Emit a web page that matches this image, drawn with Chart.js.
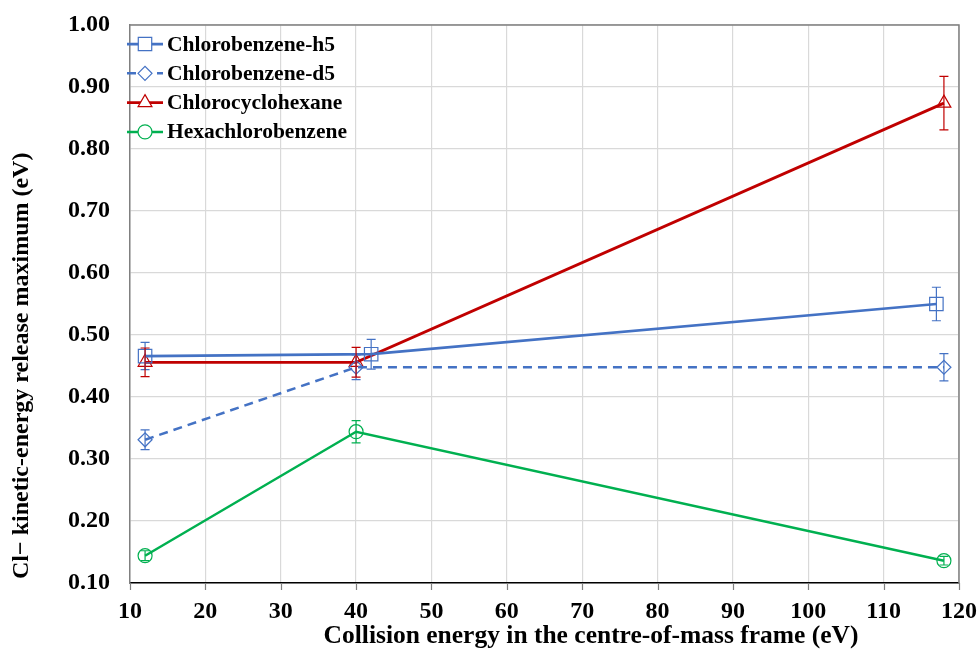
<!DOCTYPE html>
<html>
<head>
<meta charset="utf-8">
<script src="https://cdn.jsdelivr.net/npm/chart.js@4.4.1/dist/chart.umd.min.js"></script>
<style>
  html, body { margin: 0; padding: 0; background: #fff; }
</style>
</head>
<body>
<canvas id="kerChart" width="980" height="649"></canvas>
<script>
/* ------------------ DATA ------------------ */
const seriesNames = ["Chlorobenzene-h5", "Chlorobenzene-d5", "Chlorocyclohexane", "Hexachlorobenzene"];

const h5Energy = [12, 42, 117];
const h5Ker = [0.466, 0.469, 0.550];
const h5Err = [0.022, 0.024, 0.027];

const d5Energy = [12, 40, 118];
const d5Ker = [0.331, 0.448, 0.448];
const d5Err = [0.016, 0.020, 0.022];

const cyclohexEnergy = [12, 40, 118];
const cyclohexKer = [0.456, 0.456, 0.874];
const cyclohexErr = [0.023, 0.024, 0.043];

const hexaEnergy = [12, 40, 118];
const hexaKer = [0.144, 0.344, 0.136];
const hexaErr = [0.008, 0.018, 0.007];

const xTitle = "Collision energy in the centre-of-mass frame (eV)";
const yTitle = "Cl\u2212 kinetic-energy release maximum (eV)";

const BLUE = "#4472C4";
const RED = "#C00000";
const GREEN = "#00B050";
const FONT = "'Liberation Serif', 'Times New Roman', serif";

function toPoints(xs, ys) {
    return xs.map((x, i) => ({ x: x, y: ys[i] }));
}

const errors = [h5Err, d5Err, cyclohexErr, hexaErr];

/* ------------------ PLUGINS ------------------ */
// top and right edges of the plot box, plus short x tick marks
const frame = {
    id: "frame",
    beforeDatasetsDraw(chart) {
        const { ctx, chartArea: a, scales: { x } } = chart;
        ctx.save();
        ctx.strokeStyle = "#808080";
        ctx.lineWidth = 1.5;
        ctx.beginPath();
        ctx.moveTo(a.left, a.top);
        ctx.lineTo(a.right, a.top);
        ctx.lineTo(a.right, a.bottom);
        ctx.stroke();

        ctx.lineWidth = 1.2;
        ctx.beginPath();
        x.ticks.forEach(t => {
            const px = Math.round(x.getPixelForValue(t.value)) + 0.5;
            ctx.moveTo(px, a.bottom);
            ctx.lineTo(px, a.bottom + 7);
        });
        ctx.stroke();
        ctx.restore();
    }
};

// vertical error bars with caps
const errorBars = {
    id: "errorBars",
    afterDatasetsDraw(chart) {
        const { ctx, scales: { x, y } } = chart;
        ctx.save();
        chart.data.datasets.forEach((ds, i) => {
            ctx.strokeStyle = ds.borderColor;
            ctx.lineWidth = 1.2;
            ctx.setLineDash([]);
            ds.data.forEach((p, j) => {
                const e = errors[i][j];
                const px = x.getPixelForValue(p.x);
                const top = y.getPixelForValue(p.y + e);
                const bot = y.getPixelForValue(p.y - e);
                ctx.beginPath();
                ctx.moveTo(px, top);
                ctx.lineTo(px, bot);
                ctx.moveTo(px - 4.5, top);
                ctx.lineTo(px + 4.5, top);
                ctx.moveTo(px - 4.5, bot);
                ctx.lineTo(px + 4.5, bot);
                ctx.stroke();
            });
        });
        ctx.restore();
    }
};

// legend drawn inside the plot, top-left
const innerLegend = {
    id: "innerLegend",
    afterDraw(chart) {
        const ctx = chart.ctx;
        ctx.save();
        chart.data.datasets.forEach((ds, i) => {
            const rowY = 44 + i * 29.3;
            ctx.strokeStyle = ds.borderColor;
            ctx.lineWidth = ds.borderWidth;
            ctx.setLineDash(ds.borderDash || []);
            ctx.beginPath();
            ctx.moveTo(127, rowY);
            ctx.lineTo(163, rowY);
            ctx.stroke();
            ctx.setLineDash([]);
            ctx.fillStyle = "#fff";
            ctx.lineWidth = ds.pointBorderWidth;
            Chart.helpers.drawPoint(ctx, {
                pointStyle: ds.pointStyle,
                radius: ds.pointRadius,
                borderWidth: ds.pointBorderWidth,
                rotation: 0
            }, 145, rowY);
            ctx.fillStyle = "#000";
            ctx.font = "bold 21.5px " + FONT;
            ctx.textBaseline = "middle";
            ctx.textAlign = "left";
            ctx.fillText(ds.label, 167, rowY + 1);
        });
        ctx.restore();
    }
};

// axis titles
const axisTitles = {
    id: "axisTitles",
    afterDraw(chart) {
        const ctx = chart.ctx;
        ctx.save();
        ctx.fillStyle = "#000";
        ctx.font = "bold 25.5px " + FONT;
        ctx.textAlign = "center";
        ctx.textBaseline = "middle";
        ctx.fillText(xTitle, 591, 636);

        ctx.translate(22, 579);
        ctx.rotate(-Math.PI / 2);
        ctx.font = "bold 24px " + FONT;
        ctx.textAlign = "left";
        ctx.fillText(yTitle, 0, 0);
        ctx.restore();
    }
};

/* ------------------ CHART ------------------ */
const ctx = document.getElementById("kerChart").getContext("2d");

new Chart(ctx, {
    type: "line",
    data: {
        datasets: [
            {
                label: seriesNames[0],
                data: toPoints(h5Energy, h5Ker),
                borderColor: BLUE,
                borderWidth: 2.75,
                pointStyle: "rect",
                pointRadius: 9.5,
                pointBorderWidth: 1.2,
                pointBackgroundColor: "rgba(0,0,0,0)",
                pointBorderColor: BLUE
            },
            {
                label: seriesNames[1],
                data: toPoints(d5Energy, d5Ker),
                borderColor: BLUE,
                borderWidth: 2.5,
                borderDash: [9, 6],
                pointStyle: "rectRot",
                pointRadius: 7,
                pointBorderWidth: 1.2,
                pointBackgroundColor: "rgba(0,0,0,0)",
                pointBorderColor: BLUE
            },
            {
                label: seriesNames[2],
                data: toPoints(cyclohexEnergy, cyclohexKer),
                borderColor: RED,
                borderWidth: 2.75,
                pointStyle: "triangle",
                pointRadius: 8,
                pointBorderWidth: 1.2,
                pointBackgroundColor: "rgba(0,0,0,0)",
                pointBorderColor: RED
            },
            {
                label: seriesNames[3],
                data: toPoints(hexaEnergy, hexaKer),
                borderColor: GREEN,
                borderWidth: 2.5,
                pointStyle: "circle",
                pointRadius: 7,
                pointBorderWidth: 1.2,
                pointBackgroundColor: "rgba(0,0,0,0)",
                pointBorderColor: GREEN
            }
        ]
    },
    options: {
        responsive: false,
        animation: false,
        layout: { padding: { top: 25, right: 21, left: 0, bottom: 0 } },
        plugins: {
            legend: { display: false },
            tooltip: { enabled: false }
        },
        scales: {
            x: {
                type: "linear",
                min: 10,
                max: 120,
                ticks: {
                    stepSize: 10,
                    color: "#000",
                    padding: 0,
                    font: { family: FONT, size: 24, weight: "bold" }
                },
                // tick marks themselves are drawn by the frame plugin
                grid: { color: "#d9d9d9", tickColor: "rgba(0,0,0,0)", tickLength: 14, lineWidth: 1.2 },
                border: { color: "#000", width: 1.5 },
                afterFit(scale) { scale.height = 66; }
            },
            y: {
                min: 0.1,
                max: 1.0,
                ticks: {
                    stepSize: 0.1,
                    color: "#000",
                    padding: 0,
                    font: { family: FONT, size: 24, weight: "bold" },
                    callback: v => v.toFixed(2)
                },
                grid: { color: "#d9d9d9", tickColor: "rgba(0,0,0,0)", tickLength: 20, lineWidth: 1.2 },
                border: { color: "#808080", width: 1.5 },
                afterFit(scale) { scale.width = 130; }
            }
        }
    },
    plugins: [frame, errorBars, innerLegend, axisTitles]
});
</script>
</body>
</html>
